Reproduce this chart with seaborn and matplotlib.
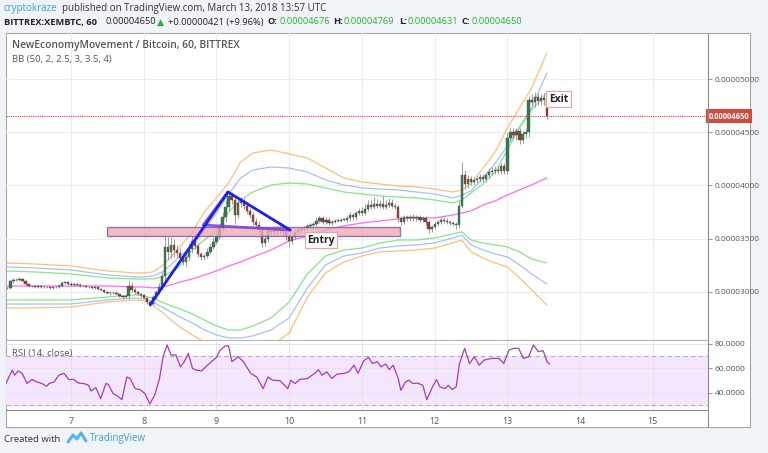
import matplotlib
matplotlib.use("Agg")
import matplotlib.pyplot as plt
from matplotlib.patches import Rectangle
from matplotlib.lines import Line2D
import seaborn as sns

# hourly candles from Mar 6 03:00 to Mar 13 13:00, prices in satoshi (1e-8 BTC)
first_hour = 3
first_open = 3040
closes = [
    3035, 3100, 3115, 3110, 3120, 3100, 3075, 3055, 3060, 3050,
    3055, 3045, 3050, 3045, 3040, 3045, 3050, 3060, 3085, 3090,
    3075, 3070, 3075, 3070, 3060, 3055, 3045, 3050, 3040, 3045,
    3030, 3015, 3000, 2995, 2990, 2995, 2985, 2960, 2950, 2960,
    3060, 3020, 3000, 2985, 2970, 2945, 2910, 2890, 2950, 3000,
    3050, 3150, 3420, 3380, 3440, 3390, 3370, 3320, 3280, 3330,
    3400, 3480, 3430, 3360, 3330, 3340, 3380, 3420, 3470, 3520,
    3600, 3700, 3800, 3900, 3860, 3720, 3840, 3850, 3810, 3760,
    3720, 3660, 3630, 3580, 3460, 3500, 3570, 3560, 3590, 3570,
    3600, 3560, 3530, 3480, 3520, 3560, 3580, 3590, 3600, 3620,
    3630, 3640, 3670, 3690, 3660, 3680, 3650, 3660, 3670, 3670,
    3680, 3680, 3690, 3720, 3700, 3740, 3760, 3740, 3780, 3820,
    3800, 3830, 3810, 3830, 3800, 3820, 3840, 3810, 3800, 3690,
    3660, 3700, 3690, 3700, 3690, 3700, 3680, 3690, 3660, 3590,
    3610, 3640, 3660, 3680, 3670, 3660, 3650, 3640, 3625, 3810,
    4100, 4010, 4060, 4030, 4050, 4060, 4080, 4060, 4100, 4130,
    4140, 4150, 4140, 4180, 4140, 4450, 4500, 4470, 4510, 4430,
    4480, 4500, 4800, 4780, 4830, 4790, 4820, 4800, 4650,
]
wick_up = [
    10, 15, 20, 15, 20, 10, 15, 10, 10, 10,
    10, 10, 15, 10, 10, 10, 10, 15, 20, 15,
    10, 15, 10, 10, 10, 10, 10, 10, 10, 10,
    10, 10, 10, 10, 10, 10, 10, 10, 15, 20,
    40, 30, 20, 15, 10, 10, 10, 10, 20, 20,
    30, 40, 120, 100, 80, 60, 50, 40, 30, 40,
    60, 50, 40, 30, 20, 20, 30, 30, 40, 40,
    40, 50, 60, 40, 30, 40, 50, 40, 30, 30,
    30, 30, 30, 40, 30, 40, 30, 30, 30, 30,
    30, 30, 30, 30, 30, 20, 20, 20, 20, 20,
    20, 20, 30, 20, 20, 20, 20, 20, 15, 15,
    15, 15, 20, 30, 20, 20, 30, 40, 50, 40,
    40, 60, 40, 30, 70, 40, 40, 30, 30, 20,
    20, 20, 20, 20, 30, 20, 20, 20, 20, 20,
    20, 20, 20, 20, 20, 20, 20, 20, 20, 40,
    120, 50, 40, 30, 30, 30, 30, 30, 30, 30,
    30, 30, 30, 30, 30, 40, 40, 40, 30, 30,
    30, 30, 40, 60, 50, 40, 40, 50, 80,
]
wick_dn = [
    10, 10, 15, 10, 10, 10, 10, 10, 10, 10,
    10, 10, 10, 10, 10, 10, 10, 10, 10, 10,
    10, 10, 10, 10, 10, 10, 10, 10, 10, 10,
    10, 10, 10, 10, 15, 10, 10, 10, 15, 10,
    30, 20, 20, 15, 15, 15, 20, 20, 15, 20,
    20, 30, 60, 80, 60, 60, 40, 40, 30, 40,
    40, 30, 30, 30, 30, 30, 20, 20, 20, 20,
    20, 30, 40, 40, 30, 80, 30, 40, 30, 30,
    30, 30, 30, 30, 40, 30, 30, 30, 30, 30,
    30, 30, 40, 60, 30, 20, 20, 20, 20, 20,
    20, 20, 20, 20, 20, 20, 20, 20, 15, 15,
    15, 15, 20, 20, 20, 20, 20, 20, 20, 20,
    20, 20, 20, 20, 20, 20, 20, 20, 20, 30,
    30, 20, 20, 20, 20, 20, 20, 20, 30, 40,
    30, 20, 20, 20, 20, 20, 20, 20, 30, 20,
    20, 40, 30, 30, 30, 30, 30, 30, 30, 30,
    30, 30, 30, 30, 30, 30, 30, 30, 40, 40,
    30, 30, 40, 30, 40, 30, 30, 40, 30,
]

# Bollinger bands read at sample hours (hours since Mar 6 00:00)
band_hours = [3, 12, 24, 36, 45, 48, 51, 54, 57, 60, 64, 68, 72, 76, 80, 84, 90, 96,
              102, 108, 114, 120, 126, 132, 138, 144, 150, 153, 156, 160, 164, 168, 172, 176, 181]
bb_upper_orange = [3272, 3263, 3244, 3197, 3179, 3179, 3188, 3244, 3329, 3423, 3564, 3751, 3883, 4024,
                   4221, 4305, 4334, 4296, 4258, 4164, 4071, 4033, 4014, 3995, 3986, 3967, 3939, 3958,
                   4014, 4164, 4315, 4540, 4728, 4916, 5244]
bb_upper_blue = [3235, 3226, 3207, 3160, 3141, 3141, 3150, 3188, 3254, 3338, 3432, 3582, 3742, 3920,
                 4071, 4146, 4174, 4164, 4127, 4052, 4005, 3977, 3967, 3958, 3939, 3920, 3883, 3911,
                 3949, 4071, 4211, 4371, 4549, 4728, 5056]
bb_upper_green = [3197, 3188, 3169, 3132, 3122, 3122, 3122, 3141, 3188, 3244, 3394, 3488, 3582, 3751,
                  3864, 3939, 4005, 4024, 4014, 3977, 3939, 3920, 3902, 3892, 3883, 3864, 3836, 3864,
                  3930, 4014, 4127, 4334, 4540, 4709, 4869]
bb_middle = [3056, 3056, 3056, 3056, 3047, 3047, 3038, 3047, 3066, 3094, 3122, 3160, 3197, 3244,
             3282, 3329, 3394, 3479, 3526, 3582, 3620, 3648, 3667, 3686, 3695, 3695, 3723, 3742,
             3761, 3817, 3855, 3911, 3958, 4005, 4071]
bb_lower_green = [2925, 2925, 2925, 2953, 2972, 2963, 2944, 2906, 2869, 2840, 2794, 2737, 2681, 2643,
                  2643, 2681, 2756, 2906, 3169, 3338, 3394, 3413, 3460, 3488, 3488, 3507, 3545, 3564,
                  3488, 3460, 3442, 3423, 3376, 3310, 3272]
bb_lower_blue = [2887, 2887, 2887, 2925, 2944, 2934, 2906, 2859, 2812, 2765, 2709, 2643, 2596, 2568,
                 2568, 2587, 2643, 2756, 3038, 3254, 3338, 3366, 3413, 3432, 3442, 3460, 3507, 3535,
                 3442, 3394, 3357, 3329, 3254, 3169, 3075]
bb_lower_orange = [2850, 2850, 2859, 2906, 2925, 2916, 2878, 2812, 2737, 2671, 2596, 2531, 2474, 2437,
                   2427, 2437, 2493, 2615, 2953, 3179, 3282, 3338, 3376, 3385, 3394, 3413, 3460, 3488,
                   3376, 3319, 3272, 3235, 3132, 3019, 2878]

# RSI (14, close)
rsi_hours = [2.5, 4.6, 5.4, 6.6, 7.9, 9.5, 11.1, 12.7, 14.4, 16.0, 16.8, 18.4, 20.0, 21.7, 23.3,
             24.9, 26.5, 28.2, 29.8, 30.6, 32.2, 33.8, 35.5, 36.3, 37.9, 39.5, 40.8, 42.4, 43.5,
             45.2, 46.8, 48.4, 50.0, 51.6, 53.2, 54.4, 55.7, 57.0, 58.6, 60.1, 61.4, 62.7, 64.1,
             65.4, 67.1, 68.7, 70.3, 72.0, 73.2, 74.9, 76.0, 77.1, 79.2, 80.9, 83.3, 85.3, 87.4,
             89.0, 90.6, 93.0, 95.5, 96.6, 97.9, 99.5, 102.0, 104.4, 105.7, 106.8, 108.4, 110.1,
             111.7, 114.1, 115.7, 117.4, 118.7, 120.6, 122.2, 123.5, 125.1, 126.3, 127.9, 129.0,
             130.3, 132.0, 132.8, 134.4, 135.5, 136.8, 138.4, 140.1, 141.4, 143.3, 144.6, 145.7,
             147.4, 148.5, 149.8, 151.1, 152.2, 153.9, 155.5, 157.1, 158.7, 160.3, 162.8, 165.2,
             166.8, 168.5, 170.1, 171.7, 173.3, 175.0, 176.6, 178.2, 179.8, 181.1, 181.9]
rsi_vals = [47.7, 58.6, 54.5, 58.0, 56.0, 47.7, 51.0, 49.0, 47.7, 45.5, 47.7, 49.0, 54.5, 56.0, 51.0,
            51.0, 48.0, 47.7, 46.3, 41.6, 44.4, 35.3, 47.7, 47.0, 39.5, 37.3, 34.5, 53.0, 51.8,
            43.6, 42.7, 39.5, 31.2, 38.0, 51.8, 69.6, 79.2, 71.0, 71.0, 61.4, 65.5, 72.3, 60.0,
            58.6, 58.0, 62.0, 65.5, 69.0, 75.0, 78.4, 78.4, 65.5, 69.6, 65.5, 56.0, 53.0, 43.6,
            53.0, 50.4, 50.0, 43.6, 50.4, 47.7, 51.0, 51.8, 56.0, 59.0, 54.5, 57.3, 51.8,
            55.3, 56.0, 57.3, 62.7, 56.0, 66.3, 69.0, 64.0, 65.5, 61.4, 63.6, 59.0,
            62.7, 51.8, 42.2, 49.0, 50.4, 47.7, 48.0, 46.3, 34.5, 45.0, 51.0, 45.0,
            43.6, 46.3, 42.7, 45.0, 64.0, 76.4, 64.0, 69.6, 62.7, 66.8, 68.2, 68.2,
            64.0, 75.0, 76.4, 76.4, 68.2, 69.6, 79.2, 73.7, 74.5, 65.5, 63.6]

day_hours = [24, 48, 72, 96, 120, 144, 168, 192, 216]
day_labels = ["7", "8", "9", "10", "11", "12", "13", "14", "15"]
price_ticks = [3000, 3500, 4000, 4500, 5000]
rsi_ticks = [40, 60, 80]
last_price = 4650

# drawing annotations (hours, satoshi)
zone = (35.9, 132.6, 3526, 3610)
pattern_blue = ([50.1, 75.8, 96.3], [2878, 3939, 3582])
pattern_purple = ([75.8, 67.6, 96.3], [3939, 3629, 3582])

W, H = 768, 453


def fx(px):
    return px / W


def fy(py):
    return 1 - py / H


sns.set_style("white")
plt.rcParams["font.family"] = ["Open Sans", "DejaVu Sans"]

fig = plt.figure(figsize=(7.68, 4.53), dpi=100, facecolor="#f0f3f7")

# white chart panel
fig.add_artist(Rectangle((fx(6), fy(427)), fx(744), 394 / H, transform=fig.transFigure,
                         facecolor="white", edgecolor="#a8a8a8", lw=0.8, zorder=-1))

ax = fig.add_axes([fx(6), fy(340), fx(702), 307 / H], facecolor="none")
ax2 = fig.add_axes([fx(6), fy(410), fx(702), 68 / H], facecolor="none")

hours = [first_hour + i for i in range(len(closes))]
opens = [first_open] + closes[:-1]
highs = [max(o, c) + w for o, c, w in zip(opens, closes, wick_up)]
lows = [min(o, c) - w for o, c, w in zip(opens, closes, wick_dn)]

# bands
band_style = [(bb_upper_orange, "#ffbf7a"), (bb_lower_orange, "#ffbf7a"),
              (bb_upper_blue, "#a4c2f4"), (bb_lower_blue, "#a4c2f4"),
              (bb_upper_green, "#88e488"), (bb_lower_green, "#88e488"),
              (bb_middle, "#ff6bf0")]
for vals, col in band_style:
    sns.lineplot(x=band_hours, y=vals, color=col, lw=0.9, ax=ax, zorder=2)

# candles
body_col = ["#2e7d4f" if c >= o else "#a8342a" for o, c in zip(opens, closes)]
ax.vlines(hours, lows, highs, color="#8c8c8c", lw=0.6, zorder=3)
ax.bar(hours, [max(abs(c - o), 4) for o, c in zip(opens, closes)],
       bottom=[min(o, c) for o, c in zip(opens, closes)], width=0.75,
       color=body_col, edgecolor="#555555", linewidth=0.3, zorder=3)

# zone + pattern
ax.add_patch(Rectangle((zone[0], zone[2]), zone[1] - zone[0], zone[3] - zone[2],
                       facecolor="#f0aab2", alpha=0.8, edgecolor="#6a5cb8", lw=1.0, zorder=4))
ax.plot(pattern_purple[0], pattern_purple[1], color="#7b3fd0", lw=2, alpha=0.85, zorder=5)
ax.plot(pattern_blue[0], pattern_blue[1], color="#1f1fe6", lw=2, zorder=6)

ax.text(106.5, 3488, "Entry", fontsize=7.4, fontweight="bold", color="#222", ha="center", va="center",
        bbox=dict(boxstyle="square,pad=0.25", fc="white", ec="#f2a0a0", lw=0.8), zorder=7)
ax.text(184.9, 4812, "Exit", fontsize=7.4, fontweight="bold", color="#222", ha="center", va="center",
        bbox=dict(boxstyle="square,pad=0.25", fc="white", ec="#f2a0a0", lw=0.8), zorder=7)

ax.axhline(last_price, color="#e0443a", ls=(0, (1, 1)), lw=0.8, zorder=5)

ax.set_xlim(2.55, 234.2)
ax.set_ylim(2549, 5432)
ax.set_xticks(day_hours)
ax.set_yticks(price_ticks)
ax.set_yticklabels([f"{v / 1e8:.8f}" for v in price_ticks])
ax.yaxis.tick_right()
ax.tick_params(axis="y", length=3, color="#999", labelsize=6.0, labelcolor="#555", pad=2)
ax.tick_params(axis="x", length=0, labelbottom=False)
ax.grid(True, color="#ececec", lw=0.8)
ax.set_axisbelow(True)
for s in ax.spines.values():
    s.set_visible(False)
ax.set_xlabel("")
ax.set_ylabel("")

ax.text(1.0299, last_price, f"{last_price / 1e8:.8f}", transform=ax.get_yaxis_transform(),
        fontsize=5.5, fontweight="bold", color="white", ha="center", va="center", clip_on=False,
        bbox=dict(boxstyle="square,pad=0.3", fc="#d24a3c", ec="none"), zorder=8)

ax.text(0.008, 0.96, "NewEconomyMovement / Bitcoin, 60, BITTREX",
        transform=ax.transAxes, fontsize=7.4, color="#555", fontweight="semibold", va="center")
ax.text(0.008, 0.915, "BB (50, 2, 2.5, 3, 3.5, 4)", transform=ax.transAxes,
        fontsize=6.8, color="#555", va="center")

# RSI panel
ax2.axhspan(30, 70, color="#f4e6fc", zorder=0)
ax2.axhline(70, color="#b9aabf", ls=(0, (4, 3)), lw=0.8)
ax2.axhline(30, color="#b9aabf", ls=(0, (4, 3)), lw=0.8)
sns.lineplot(x=rsi_hours, y=rsi_vals, color="#a43cc0", lw=0.9, ax=ax2, zorder=3)
ax2.set_xlim(2.55, 234.2)
ax2.set_ylim(26.1, 81.6)
ax2.set_xticks(day_hours)
ax2.set_xticklabels(day_labels)
ax2.set_yticks(rsi_ticks)
ax2.set_yticklabels([f"{v:.4f}" for v in rsi_ticks])
ax2.yaxis.tick_right()
ax2.tick_params(axis="y", length=3, color="#999", labelsize=6.0, labelcolor="#555", pad=2)
ax2.tick_params(axis="x", length=2, color="#999", labelsize=6.4, labelcolor="#555", pad=3)
ax2.grid(True, color="#e8e2ec", lw=0.8)
ax2.set_axisbelow(True)
for s in ax2.spines.values():
    s.set_visible(False)
ax2.set_xlabel("")
ax2.set_ylabel("")
ax2.text(0.008, 0.83, "RSI (14, close)", transform=ax2.transAxes, fontsize=6.8, color="#555", va="center")

# panel separators
for x0, y0, x1, y1, c in [(708, 33, 708, 427, "#8c8c8c"), (6, 340, 708, 340, "#b4b4b4"),
                          (6, 410, 708, 410, "#8c8c8c")]:
    fig.add_artist(Line2D([fx(x0), fx(x1)], [fy(y0), fy(y1)], color=c, lw=0.8))

# header
fig.text(fx(4), fy(8), "cryptokraze", color="#3aa0d8", fontsize=7.0, va="center")
fig.text(fx(62), fy(8), "published on TradingView.com, March 13, 2018 13:57 UTC",
         color="#333", fontsize=7.0, va="center")
green = "#2fae2f"
pieces = [(4, "BITTREX:XEMBTC, 60", "#222", "bold"), (105, "0.00004650", "#222", "normal"),
          (157, "\u25b2", green, "normal"), (168, "+0.00000421 (+9.96%)", "#222", "normal"),
          (268, "O:", "#222", "bold"), (279, "0.00004676", green, "normal"),
          (333, "H:", "#222", "bold"), (344, "0.00004769", green, "normal"),
          (399, "L:", "#222", "bold"), (408, "0.00004631", green, "normal"),
          (461, "C:", "#222", "bold"), (471, "0.00004650", green, "normal")]
for px, s, c, w in pieces:
    fig.text(fx(px), fy(22), s, color=c, fontsize=6.7, fontweight=w, va="center")

# footer
fig.text(fx(4), fy(439), "Created with", color="#333", fontsize=6.8, va="center")
fig.add_artist(Line2D([fx(68), fx(73), fx(77), fx(81), fx(86)], [fy(442), fy(435), fy(439), fy(433), fy(441)],
                      color="#58b6e6", lw=2.2, solid_capstyle="round", solid_joinstyle="round"))
fig.text(fx(90), fy(439), "TradingView", color="#3aa0d8", fontsize=7.0, va="center")

fig.savefig("out.png", dpi=100)
